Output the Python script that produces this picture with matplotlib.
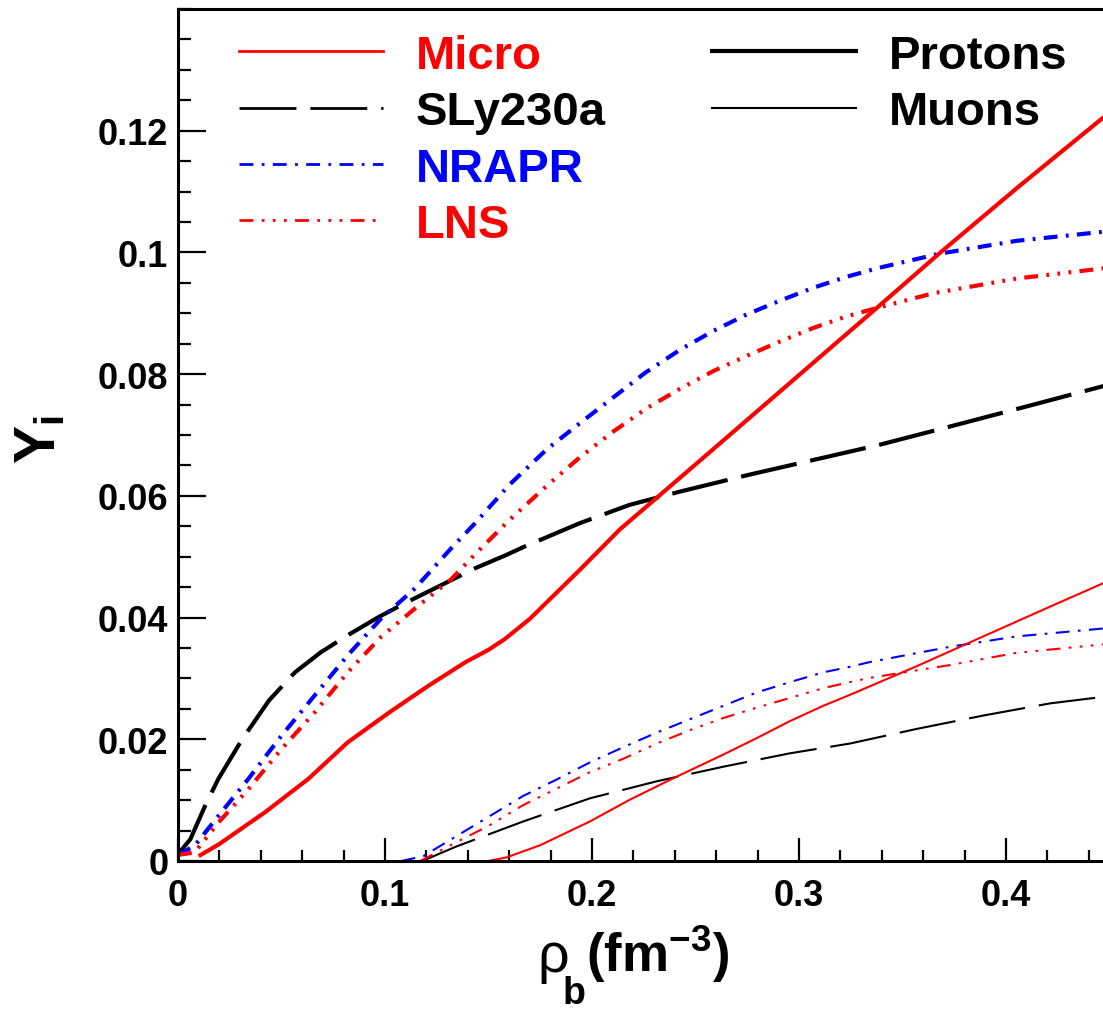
import matplotlib
matplotlib.use("Agg")
import matplotlib.pyplot as plt
from matplotlib.lines import Line2D
from matplotlib.ticker import MultipleLocator, FixedLocator, FixedFormatter

# ---------------- data ----------------
# Protons (thick lines)
micro_p_x = [0.010, 0.020, 0.042, 0.063, 0.082, 0.102, 0.121, 0.139, 0.150, 0.158, 0.170,
             0.194, 0.2135, 0.231, 0.259, 0.291, 0.323, 0.339, 0.368, 0.405, 0.450]
micro_p_y = [0.0008, 0.0028, 0.0080, 0.0135, 0.0195, 0.0244, 0.0288, 0.0327, 0.0347, 0.0365, 0.0398,
             0.0478, 0.0545, 0.0596, 0.0678, 0.0772, 0.0866, 0.0913, 0.0999, 0.1105, 0.1230]

sly_p_x = [0.000, 0.006, 0.013, 0.0195, 0.031, 0.044, 0.0565, 0.069, 0.082, 0.097, 0.111,
           0.127, 0.1435, 0.158, 0.167, 0.194, 0.218, 0.2425, 0.275, 0.307, 0.339, 0.373, 0.410, 0.450]
sly_p_y = [0.0011, 0.0036, 0.0090, 0.0135, 0.0200, 0.0264, 0.0310, 0.0343, 0.0371, 0.0401, 0.0426,
           0.0453, 0.0481, 0.0502, 0.0516, 0.0555, 0.0585, 0.0607, 0.0634, 0.0659, 0.0684, 0.0714, 0.0747, 0.0783]

nrapr_p_x = [0.000, 0.008, 0.0195, 0.034, 0.050, 0.066, 0.082, 0.098, 0.1145, 0.132, 0.1435,
             0.160, 0.178, 0.194, 0.210, 0.226, 0.2425, 0.2586, 0.2747, 0.291, 0.307, 0.323,
             0.339, 0.368, 0.405, 0.450]
nrapr_p_y = [0.0010, 0.0025, 0.0074, 0.0135, 0.0206, 0.0272, 0.0338, 0.0398, 0.0448, 0.0514, 0.0555,
             0.0618, 0.0676, 0.0719, 0.0761, 0.0803, 0.0840, 0.0871, 0.0898, 0.0921, 0.0942, 0.0960,
             0.0975, 0.0998, 0.1019, 0.1035]

lns_p_x = [0.000, 0.008, 0.0195, 0.034, 0.050, 0.066, 0.082, 0.098, 0.1145, 0.132, 0.1435,
           0.160, 0.178, 0.194, 0.210, 0.226, 0.2425, 0.2586, 0.2747, 0.291, 0.307, 0.323,
           0.339, 0.365, 0.405, 0.450]
lns_p_y = [0.0010, 0.0014, 0.0063, 0.0118, 0.0184, 0.0244, 0.0310, 0.0368, 0.0415, 0.0463, 0.0504,
           0.0560, 0.0616, 0.0663, 0.0705, 0.0743, 0.0776, 0.0805, 0.0830, 0.0854, 0.0876, 0.0895,
           0.0910, 0.0933, 0.0957, 0.0975]

# Muons (thin lines)
micro_m_x = [0.150, 0.1588, 0.175, 0.199, 0.2184, 0.2393, 0.2635, 0.2796, 0.2957, 0.3117,
             0.3246, 0.3568, 0.389, 0.4213, 0.450]
micro_m_y = [0.0000, 0.0006, 0.0026, 0.0065, 0.0101, 0.0136, 0.0175, 0.0202, 0.0230, 0.0255,
             0.0273, 0.0320, 0.0369, 0.0418, 0.0461]

sly_m_x = [0.118, 0.1346, 0.1668, 0.199, 0.2313, 0.2635, 0.2957, 0.3246, 0.3568, 0.389, 0.4213, 0.450]
sly_m_y = [0.0000, 0.0024, 0.0065, 0.0103, 0.0131, 0.0155, 0.0177, 0.0193, 0.0217, 0.0239, 0.0259, 0.0271]

nrapr_m_x = [0.108, 0.1185, 0.1346, 0.1507, 0.1668, 0.183, 0.199, 0.2151, 0.2313, 0.2473,
             0.2635, 0.2796, 0.2957, 0.3117, 0.3246, 0.3343, 0.373, 0.405, 0.450]
nrapr_m_y = [0.0000, 0.0008, 0.0041, 0.0074, 0.0107, 0.0134, 0.0162, 0.0187, 0.0211, 0.0233,
             0.0255, 0.0277, 0.0294, 0.0310, 0.0319, 0.0327, 0.0352, 0.0369, 0.0383]

lns_m_x = [0.117, 0.1346, 0.1507, 0.1668, 0.183, 0.199, 0.2151, 0.2313, 0.2473, 0.2635,
           0.2796, 0.2957, 0.3117, 0.3246, 0.3343, 0.373, 0.405, 0.450]
lns_m_y = [0.0000, 0.0031, 0.0059, 0.0092, 0.0119, 0.0146, 0.0168, 0.0193, 0.0215, 0.0235,
           0.0252, 0.0268, 0.0284, 0.0294, 0.0301, 0.0322, 0.0342, 0.0357]

model_names = ["Micro", "SLy230a", "NRAPR", "LNS"]
species_names = ["Protons", "Muons"]

xtick_vals = [0.0, 0.1, 0.2, 0.3, 0.4]
xtick_labels = ["0", "0.1", "0.2", "0.3", "0.4"]
ytick_vals = [0.0, 0.02, 0.04, 0.06, 0.08, 0.10, 0.12]
ytick_labels = ["0", "0.02", "0.04", "0.06", "0.08", "0.1", "0.12"]

# ---------------- style ----------------
plt.rcParams['font.family'] = ['Liberation Sans', 'DejaVu Sans']
plt.rcParams['font.weight'] = 'bold'
plt.rcParams['lines.scale_dashes'] = False
plt.rcParams['mathtext.fontset'] = 'custom'
plt.rcParams['mathtext.rm'] = 'Liberation Sans:bold'
plt.rcParams['mathtext.bf'] = 'Liberation Sans:bold'
plt.rcParams['mathtext.it'] = 'Liberation Sans:bold'

RED = '#ff0000'
BLUE = '#0000ff'
BLACK = '#000000'
styles = {
    "Micro": dict(color=RED, linestyle='-'),
    "SLy230a": dict(color=BLACK, linestyle=(0, (41, 10))),
    "NRAPR": dict(color=BLUE, linestyle=(0, (10, 6, 2, 6))),
    "LNS": dict(color=RED, linestyle=(0, (10, 6, 2, 6, 2, 6, 2, 6))),
}
LW_P = 3.0
LW_M = 1.5

W, H = 1103, 1012
fig = plt.figure(figsize=(W / 100, H / 100), dpi=100)
ax = fig.add_axes([178 / W, 150 / H, 931.5 / W, 852 / H])

proton_data = {"Micro": (micro_p_x, micro_p_y), "SLy230a": (sly_p_x, sly_p_y),
               "NRAPR": (nrapr_p_x, nrapr_p_y), "LNS": (lns_p_x, lns_p_y)}
muon_data = {"Micro": (micro_m_x, micro_m_y), "SLy230a": (sly_m_x, sly_m_y),
             "NRAPR": (nrapr_m_x, nrapr_m_y), "LNS": (lns_m_x, lns_m_y)}

for name in ["SLy230a", "NRAPR", "LNS", "Micro"]:
    x, y = proton_data[name]
    ax.plot(x, y, lw=LW_P, solid_capstyle='butt', **styles[name])
for name in ["SLy230a", "NRAPR", "LNS", "Micro"]:
    x, y = muon_data[name]
    ax.plot(x, y, lw=LW_M, **styles[name])

ax.set_xlim(0, 0.45)
ax.set_ylim(0, 0.14)

ax.xaxis.set_major_locator(FixedLocator(xtick_vals))
ax.xaxis.set_major_formatter(FixedFormatter(xtick_labels))
ax.yaxis.set_major_locator(FixedLocator(ytick_vals))
ax.yaxis.set_major_formatter(FixedFormatter(ytick_labels))
ax.xaxis.set_minor_locator(MultipleLocator(0.02))
ax.yaxis.set_minor_locator(MultipleLocator(0.005))

ax.tick_params(axis='x', which='major', direction='in', length=16.5, width=1.6, pad=12,
               labelsize=26, top=False)
ax.tick_params(axis='x', which='minor', direction='in', length=8, width=1.6, top=False)
ax.tick_params(axis='y', which='major', direction='in', length=20, width=1.6, pad=7,
               labelsize=26, right=False)
ax.tick_params(axis='y', which='minor', direction='in', length=9.5, width=1.6, right=False)
for lab in ax.get_xticklabels() + ax.get_yticklabels():
    lab.set_fontweight('bold')

for s in ['left', 'bottom', 'top']:
    ax.spines[s].set_linewidth(2.2)
ax.spines['right'].set_visible(False)

# axis titles
fig.text(537 / W, 1 - 972 / H, '\u03c1', ha='left', va='baseline', fontsize=40,
         fontweight='normal', family='Liberation Sans')
fig.text(563 / W, 1 - 1004 / H, 'b', ha='left', va='baseline', fontsize=27, fontweight='bold')
fig.text(586 / W, 1 - 972 / H, r'$\mathbf{(fm}^{\mathbf{-3}}\mathbf{)}$',
         ha='left', va='baseline', fontsize=38)
fig.text(40 / W, 1 - 440 / H, r'$\mathbf{Y_{i}}$', rotation=90,
         ha='center', va='center', fontsize=41)

# legends
prop = {'size': 34, 'weight': 'bold', 'family': 'Liberation Sans'}
model_handles = [Line2D([], [], lw=2.0, **styles[n]) for n in model_names]
leg1 = ax.legend(model_handles, model_names, loc='upper left',
                 bbox_to_anchor=(239 / W, 1 - 35 / H), bbox_transform=fig.transFigure,
                 frameon=False, borderpad=0, borderaxespad=0, handlelength=3.05,
                 handletextpad=0.7, labelspacing=0.26, prop=prop,
                 labelcolor=[RED, BLACK, BLUE, RED])
ax.add_artist(leg1)
species_handles = [Line2D([], [], color=BLACK, lw=LW_P), Line2D([], [], color=BLACK, lw=LW_M)]
ax.legend(species_handles, species_names, loc='upper left',
          bbox_to_anchor=(712 / W, 1 - 35 / H), bbox_transform=fig.transFigure,
          frameon=False, borderpad=0, borderaxespad=0, handlelength=3.05,
          handletextpad=0.7, labelspacing=0.26, prop=prop,
          labelcolor=[BLACK, BLACK])

fig.savefig('out.png', dpi=100)
